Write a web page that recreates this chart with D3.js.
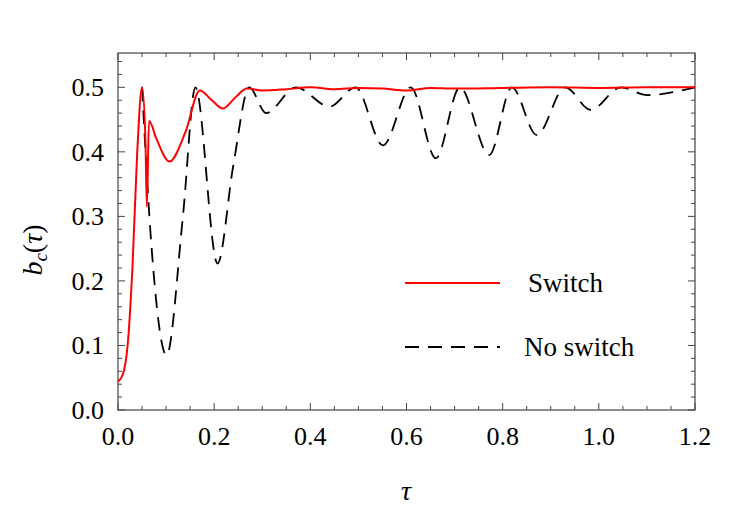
<!DOCTYPE html>
<html><head><meta charset="utf-8">
<script src="https://cdn.jsdelivr.net/npm/d3@7"></script>
<style>body{margin:0;background:#fff}text{font-family:"Liberation Serif",serif}</style>
</head><body><div id="chart"></div>
<script>
var switchT = [0, 0.01, 0.02, 0.03, 0.04, 0.05, 0.057, 0.06, 0.0645, 0.08, 0.107, 0.14, 0.17, 0.195, 0.218, 0.245, 0.268, 0.3, 0.35, 0.4, 0.45, 0.5, 0.55, 0.6, 0.65, 0.7, 0.8, 0.9, 1.0, 1.1, 1.2];
var switchV = [0.044, 0.055, 0.1, 0.22, 0.4, 0.5, 0.42, 0.315, 0.448, 0.42, 0.385, 0.43, 0.495, 0.48, 0.467, 0.485, 0.498, 0.495, 0.497, 0.5, 0.497, 0.499, 0.498, 0.495, 0.499, 0.498, 0.499, 0.5, 0.499, 0.5, 0.5];
var noSwitchT = [0.05, 0.07, 0.101, 0.135, 0.161, 0.207, 0.24, 0.273, 0.308, 0.37, 0.44, 0.494, 0.551, 0.609, 0.661, 0.711, 0.772, 0.819, 0.871, 0.93, 0.983, 1.046, 1.1, 1.2];
var noSwitchV = [0.5, 0.25, 0.085, 0.3, 0.5, 0.227, 0.38, 0.5, 0.46, 0.5, 0.47, 0.5, 0.41, 0.5, 0.39, 0.5, 0.395, 0.5, 0.426, 0.5, 0.465, 0.5, 0.488, 0.5];
var xTicks = [0, 0.2, 0.4, 0.6, 0.8, 1.0, 1.2];
var yTicks = [0, 0.1, 0.2, 0.3, 0.4, 0.5];
var legendNames = ['Switch', 'No switch'];

var W = 747, H = 512;
var svg = d3.select('#chart').append('svg').attr('width', W).attr('height', H);
var x = d3.scaleLinear().domain([0, 1.2]).range([118, 695]);
var y = d3.scaleLinear().domain([0, 0.5]).range([410, 87.3]);
var plotTop = 53, plotBottom = 410;

svg.append('rect').attr('x', 118).attr('y', plotTop).attr('width', 577).attr('height', plotBottom - plotTop)
    .attr('fill', 'none').attr('stroke', '#444').attr('stroke-width', 1.2);

// ticks on all four sides, pointing inward
d3.range(0, 1.2001, 0.05).forEach(function (t) {
    var major = Math.abs(t * 5 - Math.round(t * 5)) < 1e-6, len = major ? 7 : 4;
    svg.append('line').attr('x1', x(t)).attr('x2', x(t)).attr('y1', plotBottom).attr('y2', plotBottom - len).attr('stroke', '#444');
    svg.append('line').attr('x1', x(t)).attr('x2', x(t)).attr('y1', plotTop).attr('y2', plotTop + len).attr('stroke', '#444');
});
d3.range(0, 0.5401, 0.02).forEach(function (v) {
    var major = Math.abs(v * 10 - Math.round(v * 10)) < 1e-6, len = major ? 7 : 4;
    svg.append('line').attr('y1', y(v)).attr('y2', y(v)).attr('x1', 118).attr('x2', 118 + len).attr('stroke', '#444');
    svg.append('line').attr('y1', y(v)).attr('y2', y(v)).attr('x1', 695).attr('x2', 695 - len).attr('stroke', '#444');
});

svg.selectAll('.xl').data(xTicks).enter().append('text')
    .attr('x', d => x(d)).attr('y', 445).attr('text-anchor', 'middle').attr('font-size', 26)
    .text(d => d.toFixed(1));
svg.selectAll('.yl').data(yTicks).enter().append('text')
    .attr('x', 104).attr('y', d => y(d) + 9).attr('text-anchor', 'end').attr('font-size', 26)
    .text(d => d.toFixed(1));

svg.append('text').attr('x', 406).attr('y', 500).attr('text-anchor', 'middle')
    .attr('font-size', 28).attr('font-style', 'italic').text('τ');
var yl = svg.append('text').attr('transform', 'translate(42,250) rotate(-90)')
    .attr('text-anchor', 'middle').attr('font-size', 28);
yl.append('tspan').attr('font-style', 'italic').text('b');
yl.append('tspan').attr('font-style', 'italic').attr('font-size', 19).attr('dy', 5).text('c');
yl.append('tspan').attr('dy', -5).text('(');
yl.append('tspan').attr('font-style', 'italic').text('τ');
yl.append('tspan').text(')');

var line = d3.line().x(d => x(d[0])).y(d => y(d[1])).curve(d3.curveMonotoneX);
svg.append('path').datum(d3.zip(noSwitchT, noSwitchV)).attr('d', line)
    .attr('fill', 'none').attr('stroke', '#000').attr('stroke-width', 1.8).attr('stroke-dasharray', '14,9');
svg.append('path').datum(d3.zip(switchT, switchV)).attr('d', line)
    .attr('fill', 'none').attr('stroke', '#f00').attr('stroke-width', 2);

// legend
svg.append('line').attr('x1', 405).attr('x2', 500).attr('y1', 283).attr('y2', 283).attr('stroke', '#f00').attr('stroke-width', 2);
svg.append('line').attr('x1', 405).attr('x2', 500).attr('y1', 347).attr('y2', 347).attr('stroke', '#000').attr('stroke-width', 1.8).attr('stroke-dasharray', '14,9');
svg.append('text').attr('x', 528).attr('y', 292).attr('font-size', 27).text(legendNames[0]);
svg.append('text').attr('x', 524).attr('y', 356).attr('font-size', 27).text(legendNames[1]);
</script></body></html>
